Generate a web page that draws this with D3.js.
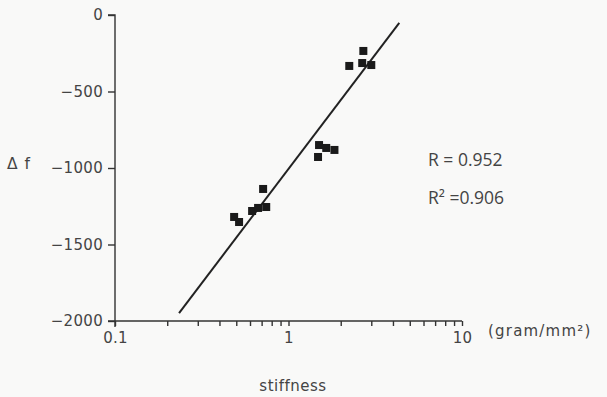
<!DOCTYPE html>
<html>
<head>
<meta charset="utf-8">
<script src="https://cdn.jsdelivr.net/npm/d3@7"></script>
<style>
  body { margin: 0; background: #f9f9f8; }
  svg { font-family: "DejaVu Sans", sans-serif; }
  .axis path, .axis line { stroke: #333; stroke-width: 1.4; }
  .axis text { fill: #444; font-size: 15px; font-family: "DejaVu Sans", sans-serif; letter-spacing: 0.3px; }
</style>
</head>
<body>
<div id="chart"></div>
<script>
// measured points
const stiffness = [0.486, 0.519, 0.714, 0.617, 0.668, 0.744, 1.50, 1.65, 1.84, 1.48, 2.70, 2.24, 2.66, 3.00];
const deltaF = [-1320, -1353, -1137, -1281, -1261, -1255, -850, -869, -882, -928, -235, -333, -314, -327];

// regression line end points
const fitX = [0.234, 4.35];
const fitY = [-1948, -52];

const yTicks = [0, -500, -1000, -1500, -2000];
const xMajor = [0.1, 1, 10];
const xMinor = [0.2, 0.3, 0.4, 0.5, 0.6, 0.7, 0.8, 0.9, 2, 3, 4, 5, 6, 7, 8, 9];

const statLines = ["R = 0.952", "R² =0.906"];

const W = 607, H = 397;
const margin = { top: 15, right: 145, bottom: 76, left: 115 };
const width = W - margin.left - margin.right;
const height = H - margin.top - margin.bottom;

const svg = d3.select("#chart").append("svg").attr("width", W).attr("height", H);
const g = svg.append("g").attr("transform", `translate(${margin.left},${margin.top})`);

const x = d3.scaleLog().domain([0.1, 10]).range([0, width]);
const y = d3.scaleLinear().domain([-2000, 0]).range([height, 0]);

// y axis
g.append("g")
  .attr("class", "axis")
  .call(d3.axisLeft(y).tickValues(yTicks).tickSize(7).tickPadding(5).tickFormat(d => d === 0 ? "0" : "\u2212" + Math.abs(d)))
  .call(s => s.select(".domain").attr("d", `M0,${height + 6}V0H-7`));

// x axis
g.append("g")
  .attr("class", "axis")
  .attr("transform", `translate(0,${height})`)
  .call(d3.axisBottom(x).tickValues(xMajor.concat(xMinor)).tickSize(5).tickPadding(6)
    .tickFormat(d => xMajor.includes(d) ? String(d) : ""))
  .call(s => s.select(".domain").attr("d", `M-7,0H${width}`));

// regression line
g.append("line")
  .attr("x1", x(fitX[0])).attr("y1", y(fitY[0]))
  .attr("x2", x(fitX[1])).attr("y2", y(fitY[1]))
  .attr("stroke", "#222").attr("stroke-width", 2);

// points
const sz = 8;
g.selectAll(".pt")
  .data(stiffness.map((s, i) => ({ s, f: deltaF[i] })))
  .enter()
  .append("rect")
  .attr("class", "pt")
  .attr("x", d => x(d.s) - sz / 2)
  .attr("y", d => y(d.f) - sz / 2)
  .attr("width", sz)
  .attr("height", sz)
  .attr("fill", "#1a1a1a");

// labels
svg.append("text").attr("x", 7).attr("y", 169).attr("font-size", 15.5).attr("fill", "#444")
  .attr("letter-spacing", 1).text("Δ f");
svg.append("text").attr("x", 488).attr("y", 336).attr("font-size", 15).attr("fill", "#444")
  .attr("letter-spacing", 1.2).text("(gram/mm²)");
svg.append("text").attr("x", 293).attr("y", 391).attr("text-anchor", "middle").attr("font-size", 15).attr("fill", "#444")
  .attr("letter-spacing", 0.5).text("stiffness");

svg.selectAll(".stat")
  .data(statLines)
  .enter()
  .append("text")
  .attr("class", "stat")
  .attr("x", 428)
  .attr("y", (d, i) => 166 + i * 38)
  .attr("font-size", 17.5)
  .attr("fill", "#444")
  .attr("font-family", "Open Sans, sans-serif")
  .text(d => d);
</script>
</body>
</html>
